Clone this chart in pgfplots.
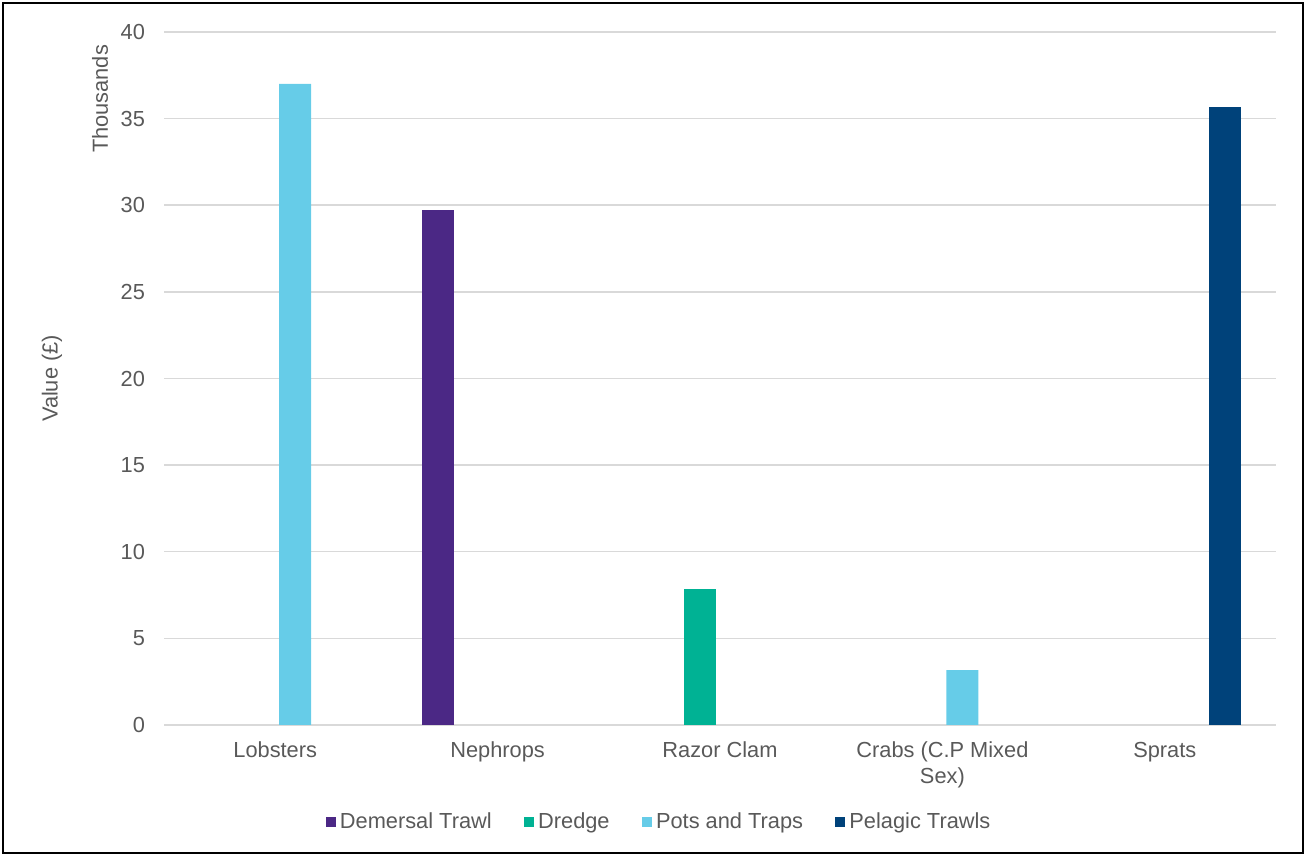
\documentclass[border=0pt]{standalone}
\usepackage{fontspec}
\setmainfont{Liberation Sans}
\usepackage{pgfplots}
\pgfplotsset{compat=1.18}
\definecolor{demersal}{RGB}{75,40,133}
\definecolor{dredge}{RGB}{0,178,148}
\definecolor{pots}{RGB}{102,204,232}
\definecolor{pelagic}{RGB}{0,66,122}
\definecolor{gridgray}{RGB}{217,217,217}
\definecolor{textgray}{RGB}{89,89,89}
\begin{document}
\begin{tikzpicture}
\useasboundingbox (0,0) rectangle (653pt,428pt);
\draw[black, line width=1.2pt] (1.5pt,1.5pt) rectangle (651.5pt,426.5pt);
\begin{axis}[
  at={(82pt,65.5pt)}, anchor=south west,
  scale only axis, width=556pt, height=346.5pt,
  ybar=4pt, bar width=16pt,
  xmin=-0.5, xmax=4.5, ymin=0, ymax=40,
  xtick={0,1,2,3,4},
  xticklabels={Lobsters,Nephrops,Razor Clam,{Crabs (C.P Mixed\\Sex)},Sprats},
  ytick={0,5,...,40},
  major tick length=0pt,
  axis x line*=bottom, axis y line*=left,
  x axis line style={gridgray, line width=0.75pt, -},
  y axis line style={draw=none},
  ymajorgrids, grid style={gridgray, line width=0.75pt},
  tick label style={font=\fontsize{10.9}{12.8}\selectfont, text=textgray},
  /pgf/number format/assume math mode=true,
  xticklabel style={align=center, yshift=-5pt},
  yticklabel style={xshift=-6pt},
  ylabel={Value (£)},
  ylabel style={at={(axis description cs:-0.1007,0.5)}, anchor=center, font=\fontsize{10.9}{12.8}\selectfont, text=textgray},
  legend style={at={(axis description cs:0.446,-0.14)}, anchor=center, draw=none, fill=none,
    legend columns=-1, font=\fontsize{10.9}{12.8}\selectfont, text=textgray,
    /tikz/every even column/.append style={column sep=14pt}},
  legend image code/.code={\fill[#1] (0.6pt,-2.6pt) rectangle (5.8pt,2.6pt);},
  enlargelimits=false,
]
\addplot[fill=demersal, draw=none] coordinates {(1,29.75)};
\addplot[fill=dredge, draw=none] coordinates {(2,7.85)};
\addplot[fill=pots, draw=none] coordinates {(0,37.0) (3,3.17)};
\addplot[fill=pelagic, draw=none] coordinates {(4,35.65)};
\legend{Demersal Trawl,Dredge,Pots and Traps,Pelagic Trawls}
\end{axis}
\node[rotate=90, anchor=center, font=\fontsize{10.9}{12.8}\selectfont, text=textgray] at (50pt,378.5pt) {Thousands};
\end{tikzpicture}
\end{document}
